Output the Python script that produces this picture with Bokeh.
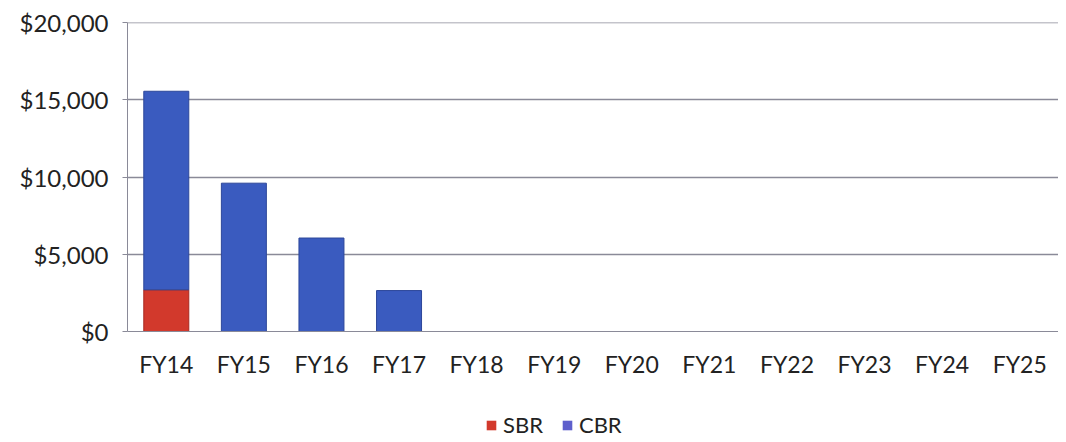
from bokeh.plotting import figure
from bokeh.layouts import column
from bokeh.models import ColumnDataSource, NumeralTickFormatter, Range1d, Legend, FixedTicker, Span
from bokeh.embed import file_html
from bokeh.resources import INLINE

years = ["FY14", "FY15", "FY16", "FY17", "FY18", "FY19", "FY20", "FY21", "FY22", "FY23", "FY24", "FY25"]
sbr = [2700, 0, 0, 0, 0, 0, 0, 0, 0, 0, 0, 0]
cbr = [12850, 9600, 6050, 2650, 0, 0, 0, 0, 0, 0, 0, 0]
series = ["SBR", "CBR"]
colors = ["#d2392c", "#3a5bbf"]
line_colors = ["#a82a20", "#2d479a"]
legend_colors = ["#d2392c", "#5e5fcc"]
y_ticks = [0, 5000, 10000, 15000, 20000]

src = ColumnDataSource(dict(years=years, SBR=sbr, CBR=cbr))

W = 1058
p = figure(x_range=years, y_range=Range1d(0, 20000), width=W, height=391,
           output_backend="svg", toolbar_location=None,
           min_border_left=127, min_border_right=0, min_border_top=22, min_border_bottom=60)

p.vbar_stack(series, x="years", width=0.58, source=src, fill_color=colors,
             line_color=line_colors, line_width=1)

FONT = "Lato"
GRID = "#8a8a98"
TXT = "#222222"
p.yaxis.ticker = FixedTicker(ticks=y_ticks)
p.yaxis.formatter = NumeralTickFormatter(format="$0,0")
p.yaxis.major_label_text_font = FONT
p.yaxis.major_label_text_font_size = "24px"
p.yaxis.major_label_text_color = TXT
p.yaxis.axis_line_color = GRID
p.yaxis.major_tick_line_color = GRID
p.yaxis.major_tick_out = 5
p.yaxis.major_tick_in = 0
p.yaxis.minor_tick_line_color = None
p.yaxis.major_label_standoff = 14

p.xaxis.major_label_text_font = FONT
p.xaxis.major_label_text_font_size = "23px"
p.xaxis.major_label_text_color = TXT
p.xaxis.axis_line_color = GRID
p.xaxis.major_tick_line_color = None
p.xaxis.major_label_standoff = 12

p.xgrid.grid_line_color = None
p.ygrid.grid_line_color = GRID
p.ygrid.grid_line_width = 1.3
p.outline_line_color = None
p.add_layout(Span(location=y_ticks[-1], dimension="width", line_color=GRID, line_width=1.3))

# legend strip below the chart (its view range lies far above the bars so only the legend shows)
lg = figure(x_range=years, y_range=Range1d(1e6, 2e6), width=W, height=50,
            output_backend="svg", toolbar_location=None,
            min_border_left=0, min_border_right=0, min_border_top=0, min_border_bottom=0)
lg.axis.visible = False
lg.grid.grid_line_color = None
lg.outline_line_color = None
lr = lg.vbar_stack(series, x="years", width=0.58, source=src, fill_color=legend_colors,
                   line_color=None)
legend = Legend(items=[(s, [rr]) for s, rr in zip(series, lr)], orientation="horizontal",
                location=(358, 3), label_text_font=FONT, label_text_font_size="22px",
                label_text_color=TXT, glyph_width=12, glyph_height=12,
                border_line_color=None, background_fill_alpha=0, spacing=18,
                margin=0, padding=0, label_standoff=6)
lg.add_layout(legend, "center")

open("out.html", "w").write(file_html(column(p, lg), INLINE))
